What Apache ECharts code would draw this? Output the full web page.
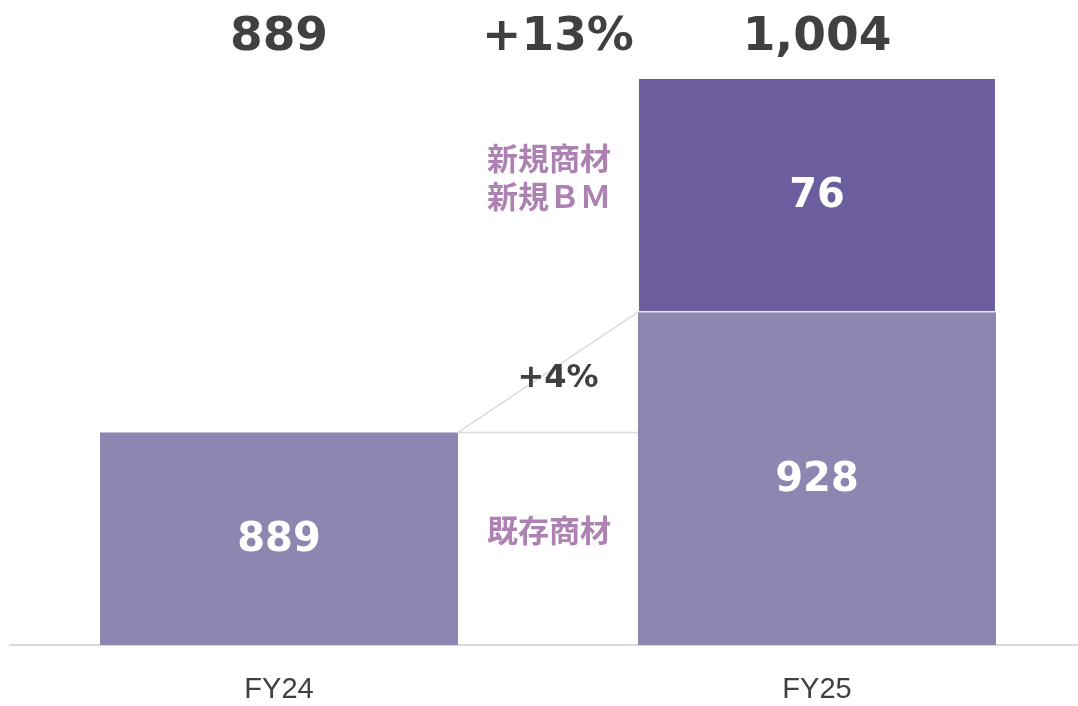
<!DOCTYPE html>
<html>
<head>
<meta charset="utf-8">
<script src="https://cdn.jsdelivr.net/npm/echarts@6/dist/echarts.min.js"></script>
<style>
  html, body { margin: 0; padding: 0; background: #fff; }
  #chart { width: 1078px; height: 706px; }
</style>
</head>
<body>
<div id="chart"></div>
<script>
// data
const categories = ['FY24', 'FY25'];
const existing = [889, 928];        // 既存商材
const newBiz = [null, 76];          // 新規商材・新規BM
const totalLabels = ['889', '1,004'];
const growthTotal = '+13%';
const growthExisting = '+4%';
const existingName = '既存商材';
const newBizName = '新規商材\n新規ＢＭ';

const BAR_W = 358;
const numFont = 'bold 47px "DejaVu Sans", Verdana, sans-serif';
const cjkFont = 'bold 31px "Noto Sans CJK JP", sans-serif';

const chart = echarts.init(document.getElementById('chart'));

chart.setOption({
    animation: false,
    grid: { left: 10, width: 1076, top: 78, bottom: 61, outerBoundsMode: 'none', containLabel: false },
    xAxis: {
        type: 'category',
        data: categories,
        axisLine: { lineStyle: { color: '#d9d9d9', width: 2 } },
        axisTick: { show: false },
        axisLabel: {
            color: '#404040',
            fontSize: 29,
            fontFamily: '"Liberation Sans Narrow", "Liberation Sans", sans-serif',
            margin: 30
        }
    },
    yAxis: {
        type: 'value',
        min: 820,
        max: 1004,
        show: false
    },
    series: [{
        name: existingName,
        type: 'bar',
        stack: 'total',
        barWidth: BAR_W,
        data: existing,
        itemStyle: { color: '#8c86b0' },
        label: {
            show: true,
            position: 'inside',
            color: '#fff',
            fontSize: 40,
            fontWeight: 'bold',
            fontFamily: '"DejaVu Sans", Verdana, sans-serif',
            offset: [0, 2]
        }
    }, {
        name: '新規',
        type: 'bar',
        stack: 'total',
        barWidth: BAR_W,
        data: newBiz,
        itemStyle: { color: '#6c5d9e', borderColor: '#fff', borderWidth: 1 },
        label: {
            show: true,
            position: 'inside',
            color: '#fff',
            fontSize: 40,
            fontWeight: 'bold',
            fontFamily: '"DejaVu Sans", Verdana, sans-serif',
            offset: [0, 2]
        }
    }, {
        // connectors and annotations, placed through the axes
        type: 'custom',
        clip: false,
        silent: true,
        z: 5,
        data: [[0, existing[0]]],
        renderItem: function (params, api) {
            const half = BAR_W / 2;
            const p0 = api.coord([0, existing[0]]);
            const p1 = api.coord([1, existing[1]]);
            const pt = api.coord([1, existing[1] + newBiz[1]]);
            const base = api.coord([0, 820]);
            const midX = (p0[0] + p1[0]) / 2;
            const topY = pt[1] - 40;
            const lineStyle = { stroke: '#dcdcdc', lineWidth: 1.5 };
            function txt(text, x, y, font, fill) {
                return {
                    type: 'text',
                    style: {
                        text: text, x: x, y: y, font: font, fill: fill,
                        align: 'center', verticalAlign: 'middle',
                        textAlign: 'center', textVerticalAlign: 'middle',
                        lineHeight: 38
                    }
                };
            }
            return {
                type: 'group',
                children: [
                    { type: 'line', shape: { x1: p0[0] + half, y1: p0[1], x2: p1[0] - half, y2: p0[1] }, style: lineStyle },
                    { type: 'line', shape: { x1: p0[0] + half, y1: p0[1], x2: p1[0] - half, y2: p1[1] }, style: lineStyle },
                    txt(totalLabels[0], p0[0], topY, numFont, '#404040'),
                    txt(growthTotal, midX + 10, topY, numFont, '#404040'),
                    txt(totalLabels[1], p1[0], topY, numFont, '#404040'),
                    txt(growthExisting, midX + 10, (p0[1] + p1[1]) / 2 + 6, 'bold 32px "DejaVu Sans", Verdana, sans-serif', '#404040'),
                    txt(newBizName, midX + 1, (pt[1] + p1[1]) / 2 - 18, cjkFont, '#ad82b2'),
                    txt(existingName, midX + 1, (p0[1] + base[1]) / 2 - 8, cjkFont, '#ad82b2')
                ]
            };
        }
    }]
});
</script>
</body>
</html>
